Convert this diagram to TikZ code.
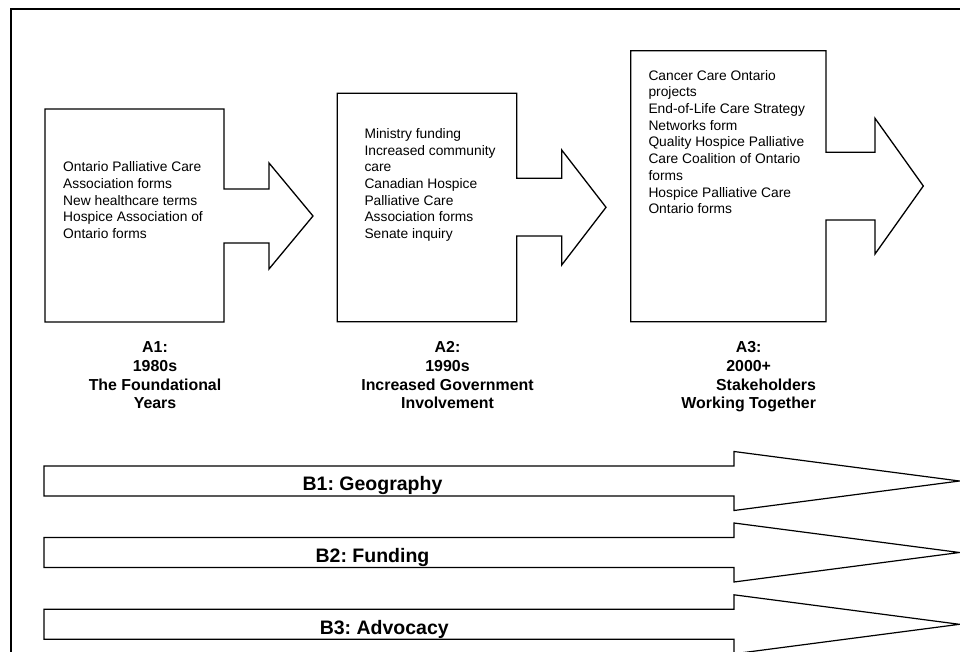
\documentclass[tikz,border=0pt]{standalone}
\usepackage{fontspec}
\setmainfont{Liberation Sans}
\frenchspacing
\begin{document}
\begin{tikzpicture}[x=1pt,y=-1pt,
  frame/.style={line width=2pt},
  blk/.style={draw=black, line width=1.3pt, fill=white, line join=miter},
  band/.style={draw=black, line width=1.2pt, fill=white, line join=miter},
  body/.style={anchor=north west, inner sep=0pt, align=left, font=\fontsize{13.8}{16.7}\selectfont},
  era/.style={anchor=north, inner sep=0pt, font=\fontsize{15.9}{18.7}\selectfont\bfseries},
  theme/.style={anchor=base, inner sep=0pt, font=\fontsize{19.5}{22}\selectfont\bfseries}]
\path[use as bounding box] (0,0) rectangle (960,652);
\clip (0,0) rectangle (960,652);
\fill[white] (0,0) rectangle (960,652);
\draw[frame] (11,9) rectangle (975,670);

% era block arrows
\draw[blk] (45,109) -- (224,109) -- (224,189) -- (269,189) -- (269,163) -- (313,216) -- (269,269) -- (269,243) -- (224,243) -- (224,322) -- (45,322) -- cycle;
\draw[blk] (337.3,93.3) -- (516.7,93.3) -- (516.7,178.3) -- (561.7,178.3) -- (561.7,150) -- (606,207.3) -- (561.7,265) -- (561.7,236) -- (516.7,236) -- (516.7,321.7) -- (337.3,321.7) -- cycle;
\draw[blk] (630.7,50.7) -- (826,50.7) -- (826,152.3) -- (875,152.3) -- (875,118.3) -- (923.3,186) -- (875,254) -- (875,220) -- (826,220) -- (826,321.7) -- (630.7,321.7) -- cycle;

% theme arrows
\draw[band] (44,466) -- (734,466) -- (734,451.5) -- (959.5,481) -- (734,510.5) -- (734,496) -- (44,496) -- cycle;
\draw[band] (44,537.5) -- (734,537.5) -- (734,523) -- (959.5,552.5) -- (734,582) -- (734,567.5) -- (44,567.5) -- cycle;
\draw[band] (44,609.3) -- (734,609.3) -- (734,594.8) -- (959.5,624.3) -- (734,653.8) -- (734,639.3) -- (44,639.3) -- cycle;

% texts
\node[body] (a1txt) at (63,160) {\strut Ontario Palliative Care\\Association forms\\New healthcare terms\\Hospice Association of\\Ontario forms};
\node[body] (a2txt) at (364.3,126.6) {\strut Ministry funding\\Increased community\\care\\Canadian Hospice\\Palliative Care\\Association forms\\Senate inquiry};
\node[body] (a3txt) at (648.3,68.3) {\strut Cancer Care Ontario\\projects\\End-of-Life Care Strategy\\Networks form\\Quality Hospice Palliative\\Care Coalition of Ontario\\forms\\Hospice Palliative Care\\Ontario forms};

\node[era] (a1lab) at (155,339.6) {\begin{tabular}{@{}c@{}}A1:\\1980s\\The Foundational\\Years\end{tabular}};
\node[era] (a2lab) at (447.5,339.6) {\begin{tabular}{@{}c@{}}A2:\\1990s\\Increased Government\\Involvement\end{tabular}};
\node[era] (a3lab) at (748.7,339.6) {\begin{tabular}{@{}c@{}}A3:\\2000+\\\multicolumn{1}{@{}r@{}}{Stakeholders}\\Working Together\end{tabular}};

\node[theme] (b1) at (372.5,490.5) {B1: Geography};
\node[theme] (b2) at (372.5,562.3) {B2: Funding};
\node[theme] (b3) at (384.3,634) {B3: Advocacy};
\end{tikzpicture}
\end{document}
